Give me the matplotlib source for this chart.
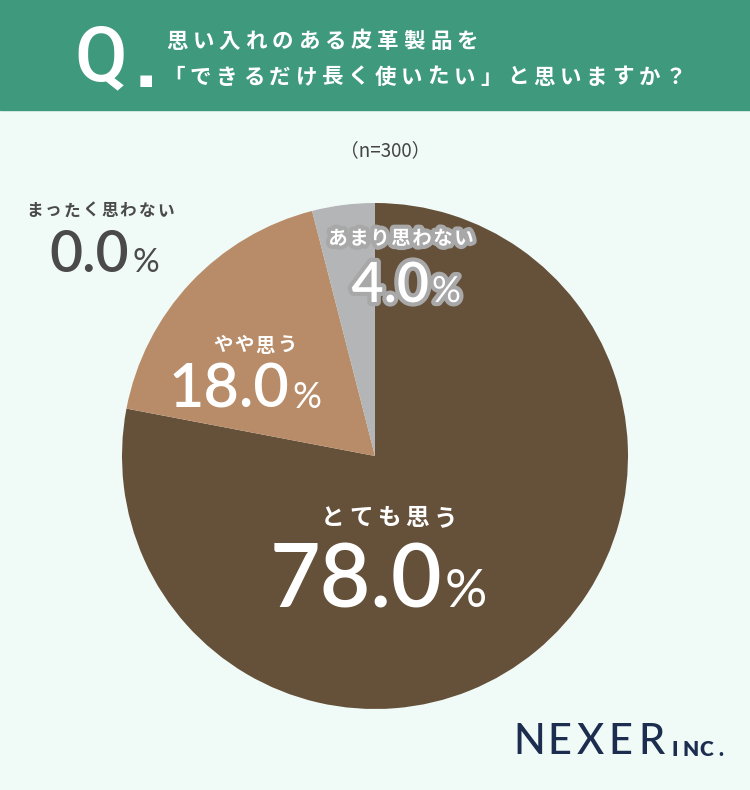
import matplotlib.pyplot as plt
from matplotlib.patches import Rectangle
import matplotlib.patheffects as pe

# datos
categorias = ['とても思う', 'やや思う', 'あまり思わない', 'まったく思わない']
valores = [78.0, 18.0, 4.0, 0.0]
colores = ['#65503a', '#b88c68', '#b3b5b6', '#8a8a8a']
titulo_1 = '思い入れのある皮革製品を'
titulo_2 = '「できるだけ長く使いたい」と思いますか？'
muestra = '（n=300）'

W, H = 750, 790
JP = ['Noto Sans CJK JP', 'DejaVu Sans']
NUM = ['Lato', 'Noto Sans CJK JP']


def py(y):
    # coordenada de pixel (desde arriba) -> coordenada de datos
    return H - y


def espaciado(ax, x, y, s, paso, **kw):
    x0 = x - paso * (len(s) - 1) / 2
    for i, ch in enumerate(s):
        ax.text(x0 + i * paso, y, ch, ha='center', **kw)


fig = plt.figure(figsize=(7.5, 7.9), dpi=100)
fig.patch.set_facecolor('#f0faf7')
ax = fig.add_axes([0, 0, 1, 1])

# pastel
ax.pie(valores, colors=colores, startangle=90, counterclock=False,
       center=(375, py(456)), radius=253,
       wedgeprops=dict(linewidth=0))
ax.set_xlim(0, W)
ax.set_ylim(0, H)
ax.set_aspect('equal')
ax.axis('off')

# encabezado
ax.add_patch(Rectangle((0, py(110)), W, 110, color='#3e997d', zorder=5))
ax.text(101, py(80), 'Q', fontsize=55, fontweight='medium', color='white',
        family=['Roboto', 'DejaVu Sans'], ha='center', va='baseline',
        zorder=6)
ax.text(146, py(85), '■', fontsize=11, color='white',
        family=['DejaVu Sans'], ha='center', va='baseline', zorder=6)
espaciado(ax, 322, py(41), titulo_1, 26.4, fontsize=15.5, color='white',
          family=JP, fontweight='bold', va='center', zorder=6)
espaciado(ax, 425, py(77), titulo_2, 26.4, fontsize=15.5, color='white',
          family=JP, fontweight='bold', va='center', zorder=6)

ax.text(385, py(151), muestra, fontsize=13.5, color='#444444', family=JP,
        ha='center', va='center')


def etiqueta(nombre, xc, yc, tam, paso, num, xs, base, tnum, tpct, color,
             borde=None):
    efectos = None
    if borde:
        efectos = [pe.withStroke(linewidth=6, foreground=borde)]
    espaciado(ax, xc, py(yc), nombre, paso, fontsize=tam, color=color,
              family=JP, fontweight='bold', va='center', path_effects=efectos)
    ax.text(xs, py(base), f'{num:.1f}', fontsize=tnum, color=color,
            family=NUM, fontweight='semibold', ha='right', va='baseline',
            path_effects=efectos)
    ax.text(xs + 3, py(base), '%', fontsize=tpct, color=color,
            family=NUM, fontweight='normal', ha='left', va='baseline',
            path_effects=efectos)


etiqueta(categorias[0], 389, 518, 17, 28, valores[0], 442, 607, 63, 38, 'white')
etiqueta(categorias[1], 255, 346, 14, 21, valores[1], 289, 408, 44, 26, 'white')
etiqueta(categorias[2], 401, 239, 14, 21, valores[2], 429, 302, 40, 26, 'white',
         borde='#a8a8a8')
etiqueta(categorias[3], 100, 211, 12, 18.75, valores[3], 129, 272, 41, 24,
         '#4a4a4a')

# logo
espaciado(ax, 590, py(742), 'NEXER', 30.5, fontsize=30, color='#1c2d4f',
          family=['Lato', 'DejaVu Sans'], fontweight='medium', va='center')
espaciado(ax, 698, py(750), 'INC.', 15.5, fontsize=15, color='#1c2d4f',
          family=['Lato', 'DejaVu Sans'], fontweight='heavy', va='center')

plt.savefig('out.png', dpi=100, facecolor=fig.get_facecolor())
